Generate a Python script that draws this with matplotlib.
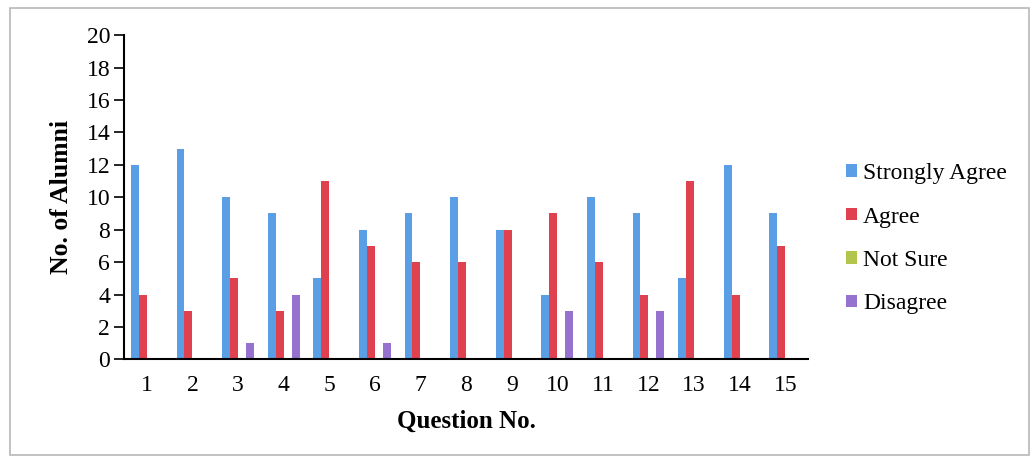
import matplotlib
matplotlib.use("Agg")
import matplotlib.pyplot as plt
import numpy as np
from matplotlib.patches import Rectangle

questions = [str(i) for i in range(1, 16)]
strongly_agree = [12, 13, 10, 9, 5, 8, 9, 10, 8, 4, 10, 9, 5, 12, 9]
agree = [4, 3, 5, 3, 11, 7, 6, 6, 8, 9, 6, 4, 11, 4, 7]
not_sure = [0] * 15
disagree = [0, 0, 1, 4, 0, 1, 0, 0, 0, 3, 0, 3, 0, 0, 0]
series_names = ["Strongly Agree", "Agree", "Not Sure", "Disagree"]
colors = ["#5A9FE6", "#E0414F", "#B3C64B", "#9572CF"]

plt.rcParams['font.family'] = ['Liberation Serif', 'DejaVu Serif']

fig = plt.figure(figsize=(10.34, 4.68), dpi=100)
fig.patches.append(Rectangle((0.010, 0.028), 0.985, 0.955, transform=fig.transFigure,
                             fill=False, edgecolor="#b8b8b8", linewidth=1.2))
ax = fig.add_axes([0.120, 0.232, 0.6615, 0.693])

x = np.arange(1, 16)
w = 0.175
data = [strongly_agree, agree, not_sure, disagree]
for i, (vals, name, c) in enumerate(zip(data, series_names, colors)):
    ax.bar(x + (i - 1.5) * w, vals, width=w, color=c, label=name, linewidth=0)

ax.set_xlim(0.5, 15.5)
ax.set_ylim(0, 20)
ax.set_yticks(range(0, 21, 2))
ax.set_xticks(x)
ax.set_xticklabels(questions)
ax.tick_params(axis='x', length=0, labelsize=17, pad=11)
ax.tick_params(axis='y', length=7, direction='out', labelsize=17, width=1.2, pad=3)
for s in ['top', 'right']:
    ax.spines[s].set_visible(False)
ax.spines['left'].set_linewidth(1.5)
ax.spines['bottom'].set_linewidth(1.5)
ax.set_ylabel("No. of Alumni", fontsize=18.5, fontweight='bold', labelpad=10)
ax.set_xlabel("Question No.", fontsize=18, fontweight='bold', labelpad=10)

leg = ax.legend(loc='center left', bbox_to_anchor=(1.025, 0.372), frameon=False,
                fontsize=17, handlelength=0.45, handleheight=0.45, handletextpad=0.25,
                labelspacing=0.95)

fig.savefig("out.png", dpi=100)
